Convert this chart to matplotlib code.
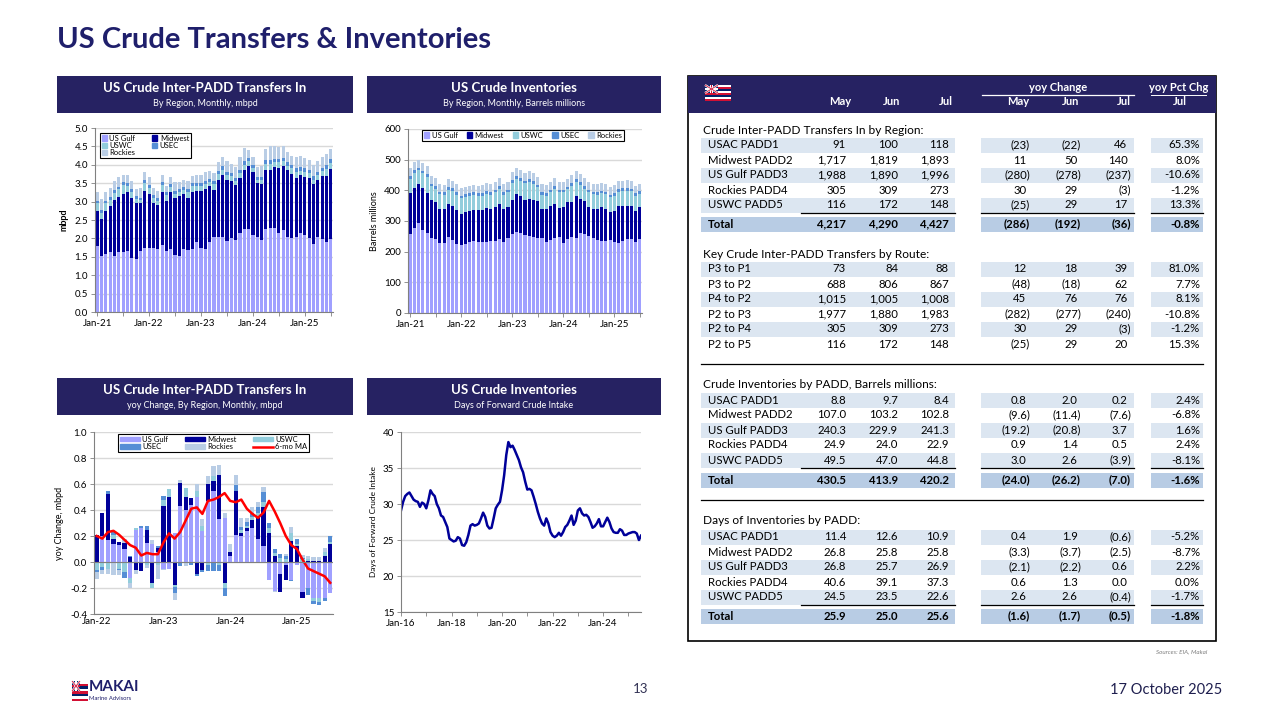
import matplotlib
matplotlib.use('Agg')
import matplotlib.pyplot as plt
from matplotlib.patches import Rectangle, Patch
from matplotlib.lines import Line2D
import numpy as np

plt.rcParams['font.family'] = ['Lato', 'DejaVu Sans']

# -------------------
# colours
# -------------------
NAVY = '#262262'
TITLE_NAVY = '#1F1F6B'
C_GULF = '#A0A0FF'
C_MW = '#000099'
C_USWC = '#92CDDC'
C_USEC = '#558ED5'
C_ROCK = '#B9CDE5'
BAND = '#DCE6F1'
BAND_TOT = '#B8CCE4'
GRID = '#D9D9D9'
AXC = '#808080'

# -------------------
# chart 1: inter-PADD transfers in, mbpd, Jan-21 .. Jul-25
# -------------------
tr_labels = ['Jan-21', 'Jan-22', 'Jan-23', 'Jan-24', 'Jan-25']
tr_gulf = [1.80, 1.52, 1.57, 1.62, 1.52, 1.62, 1.62, 1.65, 1.47, 1.45, 1.65, 1.75,
           1.75, 1.75, 1.72, 1.82, 1.65, 1.72, 1.55, 1.53, 1.70, 1.68, 1.72, 1.90,
           1.75, 1.70, 1.90, 2.05, 2.05, 2.05, 1.92, 2.00, 1.95, 2.15, 2.25, 2.25,
           2.10, 2.05, 1.95, 2.25, 2.28, 2.28, 2.15, 2.22, 2.05, 2.00, 2.05, 2.15,
           2.10, 2.00, 1.85, 2.03, 1.988, 1.890, 1.996]
tr_mw = [0.95, 1.00, 1.18, 1.25, 1.53, 1.51, 1.60, 1.60, 1.63, 1.50, 1.30, 1.55,
         1.45, 1.20, 1.18, 1.43, 1.37, 1.53, 1.55, 1.62, 1.50, 1.42, 1.55, 1.38,
         1.53, 1.65, 1.52, 1.27, 1.55, 1.67, 1.68, 1.57, 1.50, 1.50, 1.60, 1.72,
         1.70, 1.45, 1.53, 1.62, 1.59, 1.67, 1.77, 1.75, 1.80, 1.75, 1.60, 1.57,
         1.58, 1.65, 1.63, 1.57, 1.717, 1.819, 1.893]
tr_uswc = [.20, .18, .20, .18, .18, .20, .22, .18, .15, .12, .10, .20,
           .18, .15, .12, .20, .15, .15, .12, .12, .12, .15, .15, .15,
           .15, .12, .12, .15, .15, .15, .12, .12, .10, .12, .15, .12,
           .10, .08, .10, .15, .15, .12, .15, .12, .12, .15, .15, .12,
           .12, .12, .12, .12, .116, .172, .148]
tr_usec = [.07, .06, .07, .08, .08, .08, .08, .08, .08, .08, .06, .08,
           .08, .08, .07, .08, .08, .08, .08, .08, .08, .08, .08, .08,
           .08, .08, .08, .08, .08, .09, .09, .09, .09, .09, .10, .10,
           .10, .10, .08, .10, .10, .10, .10, .10, .10, .10, .10, .10,
           .10, .10, .09, .09, .091, .100, .118]
tr_rockies = [.23, .30, .25, .25, .25, .25, .20, .22, .22, .20, .25, .22,
              .22, .20, .20, .20, .18, .20, .22, .18, .20, .22, .20, .22,
              .22, .25, .20, .22, .25, .25, .28, .25, .30, .35, .35, .20,
              .20, .25, .30, .30, .40, .35, .32, .32, .28, .25, .32, .30,
              .28, .25, .30, .30, .305, .309, .273]

# -------------------
# chart 2: crude inventories, barrels millions, Jan-21 .. Jul-25
# -------------------
inv_gulf = [257, 278, 295, 272, 262, 243, 242, 228, 228, 248, 237, 225,
            222, 225, 230, 235, 232, 233, 232, 235, 235, 240, 230, 245,
            258, 265, 262, 255, 250, 248, 245, 243, 232, 237, 245, 248,
            228, 240, 248, 245, 262, 258, 252, 245, 238, 235, 235, 238,
            232, 228, 235, 242, 240.3, 229.9, 241.3]
inv_mw = [135, 130, 125, 135, 130, 124, 120, 112, 112, 107, 113, 112,
          100, 103, 103, 102, 103, 102, 110, 105, 110, 117, 110, 100,
          112, 123, 120, 115, 122, 122, 120, 97, 108, 111, 112, 94,
          117, 122, 114, 138, 110, 107, 93, 93, 102, 110, 105, 92,
          101, 120, 115, 108, 107.0, 103.2, 102.8]
inv_uswc = [46, 49, 45, 48, 51, 46, 43, 47, 45, 47, 47, 48,
            52, 50, 48, 48, 46, 48, 46, 46, 48, 48, 46, 48,
            55, 49, 48, 53, 55, 50, 45, 45, 43, 45, 48, 51,
            48, 41, 53, 44, 46, 40, 48, 49, 45, 45, 47, 47,
            50, 47, 47, 49, 49.5, 47.0, 44.8]
inv_usec = [9, 9, 9, 9, 9, 9, 9, 9, 9, 9, 9, 9,
            9, 9, 9, 9, 9, 9, 9, 9, 9, 9, 9, 9,
            9, 9, 9, 9, 9, 9, 9, 9, 9, 9, 9, 9,
            9, 9, 9, 9, 9, 9, 9, 9, 9, 9, 9, 9,
            9, 9, 9, 9, 8.8, 9.7, 8.4]
inv_rockies = [26, 26, 26, 26, 26, 26, 26, 25, 25, 25, 25, 26,
               26, 25, 25, 25, 25, 26, 26, 25, 25, 25, 25, 26,
               26, 26, 26, 26, 26, 26, 26, 26, 26, 26, 26, 26,
               26, 26, 26, 26, 26, 26, 26, 26, 26, 26, 26, 26,
               25, 25, 25, 25, 24.9, 24.0, 22.9]

# -------------------
# chart 3: yoy change in transfers, mbpd, Jan-22 .. Jul-25
# -------------------
yoy_labels = ['Jan-22', 'Jan-23', 'Jan-24', 'Jan-25']
yoy_gulf = [0.00, 0.20, 0.17, 0.14, 0.13, 0.10, -0.12, 0.25, 0.26, 0.15, 0.14, 0.08,
            -0.05, -0.05, 0.22, 0.43, 0.40, 0.44, 0.50, 0.24, 0.47, 0.55, 0.33, 0.34,
            0.05, 0.21, 0.20, 0.24, 0.26, 0.18, 0.12, -0.14, -0.22, -0.09, -0.02, -0.14,
            -0.02, -0.23, -0.20, -0.28, -0.280, -0.278, -0.237]
yoy_mw = [0.21, 0.18, 0.35, 0.04, 0.02, 0.05, 0.04, -0.06, -0.07, 0.10, -0.16, 0.03,
          0.43, 0.50, -0.18, 0.18, 0.10, 0.05, -0.09, -0.06, 0.13, 0.07, 0.34, -0.16,
          0.03, 0.34, 0.02, 0.02, 0.06, 0.17, 0.30, 0.22, 0.05, -0.14, -0.12, 0.16,
          0.12, -0.05, 0.01, 0.01, 0.011, 0.050, 0.140]
yoy_uswc = [-0.06, -0.04, -0.05, 0.03, -0.05, -0.08, -0.04, 0.01, 0.00, -0.02, -0.04, -0.02,
            0.05, 0.06, -0.01, -0.01, 0.07, -0.01, 0.05, 0.04, -0.02, 0.04, -0.02, -0.04,
            0.00, 0.00, 0.03, 0.02, 0.03, 0.03, 0.04, 0.04, 0.02, 0.03, 0.02, 0.06,
            0.02, 0.02, 0.01, -0.02, -0.025, 0.029, 0.017]
yoy_usec = [-0.02, -0.02, 0.03, 0.03, -0.01, -0.04, 0.01, 0.00, 0.02, 0.03, 0.00, 0.01,
            0.03, 0.00, -0.05, -0.02, -0.01, -0.01, -0.02, -0.02, -0.05, -0.07, -0.05, -0.06,
            -0.01, 0.04, 0.02, 0.03, 0.03, 0.04, 0.08, 0.04, 0.03, 0.03, 0.03, -0.01,
            0.04, 0.01, -0.05, -0.02, -0.023, -0.022, 0.046]
yoy_rockies = [-0.05, -0.03, -0.04, -0.10, -0.04, 0.03, -0.04, -0.03, 0.00, -0.03, 0.03, -0.11,
               -0.01, 0.00, -0.05, 0.02, -0.02, 0.00, 0.05, 0.05, 0.06, 0.08, 0.08, 0.04,
               0.06, 0.08, 0.07, 0.03, 0.04, 0.04, 0.04, 0.00, -0.01, 0.00, 0.01, 0.05,
               0.00, 0.02, 0.03, 0.03, 0.030, 0.029, -0.003]
yoy_ma6 = [0.20, 0.18, 0.23, 0.24, 0.21, 0.17, 0.13, 0.11, 0.05, 0.07, 0.06, 0.06,
           0.15, 0.22, 0.18, 0.23, 0.32, 0.41, 0.42, 0.37, 0.47, 0.48, 0.50, 0.53,
           0.47, 0.46, 0.48, 0.41, 0.37, 0.34, 0.38, 0.47, 0.39, 0.30, 0.20, 0.13,
           0.10, 0.02, -0.05, -0.07, -0.09, -0.11, -0.16]

# -------------------
# chart 4: days of forward crude intake, Jan-16 .. Jul-25
# -------------------
days_labels = ['Jan-16', 'Jan-18', 'Jan-20', 'Jan-22', 'Jan-24']
days_fwd = [29.1, 30.3, 31.1, 31.4, 31.6, 31.1, 30.6, 30.4, 30.3, 29.6, 30.2, 30.0,
            29.4, 30.5, 31.9, 31.4, 31.1, 30.0, 29.4, 28.4, 28.2, 27.5, 26.8, 25.2,
            25.0, 24.8, 24.9, 25.4, 25.2, 24.3, 24.2, 24.7, 25.7, 27.0, 27.2, 27.0,
            27.1, 27.3, 28.0, 28.8, 28.2, 27.0, 26.6, 26.7, 28.0, 29.4, 29.9, 30.3,
            31.9, 34.0, 36.8, 38.6, 37.9, 38.1, 37.5, 36.8, 36.1, 35.1, 34.4, 33.1,
            32.0, 32.1, 31.9, 31.0, 30.0, 28.9, 28.0, 27.3, 27.0, 28.0, 27.3, 26.1,
            25.6, 25.4, 25.6, 26.0, 25.6, 26.1, 26.8, 27.1, 27.7, 28.4, 27.1, 27.7,
            29.1, 29.4, 28.7, 28.4, 28.5, 28.2, 27.5, 26.7, 26.9, 27.3, 27.9, 26.9,
            26.9, 27.5, 28.1, 27.5, 26.6, 26.1, 26.0, 26.0, 26.5, 26.3, 25.7, 25.7,
            25.9, 26.0, 26.1, 26.1, 25.9, 25.0, 25.6]

# -------------------
# table data
# -------------------
col_heads = ['May', 'Jun', 'Jul', 'May', 'Jun', 'Jul', 'Jul']

s1_title = 'Crude Inter-PADD Transfers In by Region:'
s1_rows = ['USAC PADD1', 'Midwest PADD2', 'US Gulf PADD3', 'Rockies PADD4', 'USWC PADD5']
s1_vals = [['91', '100', '118', '(23)', '(22)', '46', '65.3%'],
           ['1,717', '1,819', '1,893', '11', '50', '140', '8.0%'],
           ['1,988', '1,890', '1,996', '(280)', '(278)', '(237)', '-10.6%'],
           ['305', '309', '273', '30', '29', '(3)', '-1.2%'],
           ['116', '172', '148', '(25)', '29', '17', '13.3%']]
s1_total = ['4,217', '4,290', '4,427', '(286)', '(192)', '(36)', '-0.8%']

s2_title = 'Key Crude Inter-PADD Transfers by Route:'
s2_rows = ['P3 to P1', 'P3 to P2', 'P4 to P2', 'P2 to P3', 'P2 to P4', 'P2 to P5']
s2_vals = [['73', '84', '88', '12', '18', '39', '81.0%'],
           ['688', '806', '867', '(48)', '(18)', '62', '7.7%'],
           ['1,015', '1,005', '1,008', '45', '76', '76', '8.1%'],
           ['1,977', '1,880', '1,983', '(282)', '(277)', '(240)', '-10.8%'],
           ['305', '309', '273', '30', '29', '(3)', '-1.2%'],
           ['116', '172', '148', '(25)', '29', '20', '15.3%']]

s3_title = 'Crude Inventories by PADD, Barrels millions:'
s3_rows = ['USAC PADD1', 'Midwest PADD2', 'US Gulf PADD3', 'Rockies PADD4', 'USWC PADD5']
s3_vals = [['8.8', '9.7', '8.4', '0.8', '2.0', '0.2', '2.4%'],
           ['107.0', '103.2', '102.8', '(9.6)', '(11.4)', '(7.6)', '-6.8%'],
           ['240.3', '229.9', '241.3', '(19.2)', '(20.8)', '3.7', '1.6%'],
           ['24.9', '24.0', '22.9', '0.9', '1.4', '0.5', '2.4%'],
           ['49.5', '47.0', '44.8', '3.0', '2.6', '(3.9)', '-8.1%']]
s3_total = ['430.5', '413.9', '420.2', '(24.0)', '(26.2)', '(7.0)', '-1.6%']

s4_title = 'Days of Inventories by PADD:'
s4_rows = ['USAC PADD1', 'Midwest PADD2', 'US Gulf PADD3', 'Rockies PADD4', 'USWC PADD5']
s4_vals = [['11.4', '12.6', '10.9', '0.4', '1.9', '(0.6)', '-5.2%'],
           ['26.8', '25.8', '25.8', '(3.3)', '(3.7)', '(2.5)', '-8.7%'],
           ['26.8', '25.7', '26.9', '(2.1)', '(2.2)', '0.6', '2.2%'],
           ['40.6', '39.1', '37.3', '0.6', '1.3', '0.0', '0.0%'],
           ['24.5', '23.5', '22.6', '2.6', '2.6', '(0.4)', '-1.7%']]
s4_total = ['25.9', '25.0', '25.6', '(1.6)', '(1.7)', '(0.5)', '-1.8%']

# -------------------
# figure + background canvas in pixel coordinates
# -------------------
fig = plt.figure(figsize=(12.8, 7.2), dpi=100)
bg = fig.add_axes([0, 0, 1, 1])
bg.set_xlim(0, 1280)
bg.set_ylim(720, 0)
bg.axis('off')


def px_axes(x0, y0, x1, y1):
    return fig.add_axes([x0 / 1280, 1 - y1 / 720, (x1 - x0) / 1280, (y1 - y0) / 720])


def draw_flag(x, y, w, h):
    stripe_cols = ['white', '#D21034', '#012169'] * 3
    sh = h / 8
    for i in range(8):
        bg.add_patch(Rectangle((x, y + i * sh), w, sh, color=stripe_cols[i], lw=0))
    cw, ch = w * 0.5, sh * 4
    bg.add_patch(Rectangle((x, y), cw, ch, color='#012169', lw=0))
    bg.plot([x, x + cw], [y, y + ch], color='white', lw=1.6, solid_capstyle='butt')
    bg.plot([x, x + cw], [y + ch, y], color='white', lw=1.6, solid_capstyle='butt')
    bg.plot([x, x + cw], [y, y + ch], color='#D21034', lw=0.6, solid_capstyle='butt')
    bg.plot([x, x + cw], [y + ch, y], color='#D21034', lw=0.6, solid_capstyle='butt')
    bg.add_patch(Rectangle((x + cw * 0.4, y), cw * 0.2, ch, color='white', lw=0))
    bg.add_patch(Rectangle((x, y + ch * 0.38), cw, ch * 0.24, color='white', lw=0))
    bg.add_patch(Rectangle((x + cw * 0.45, y), cw * 0.1, ch, color='#D21034', lw=0))
    bg.add_patch(Rectangle((x, y + ch * 0.44), cw, ch * 0.12, color='#D21034', lw=0))


def header_box(x0, x1, y0, title, sub):
    bg.add_patch(Rectangle((x0, y0), x1 - x0, 37, color=NAVY, lw=0))
    xc = (x0 + x1) / 2
    bg.text(xc, y0 + 12, title, color='white', fontsize=9.5, fontweight='bold', ha='center', va='center')
    bg.text(xc, y0 + 28, sub, color='white', fontsize=6.5, ha='center', va='center')


def style_axes(ax):
    for s in ['top', 'right']:
        ax.spines[s].set_visible(False)
    for s in ['left', 'bottom']:
        ax.spines[s].set_color(AXC)
        ax.spines[s].set_linewidth(0.8)
    ax.yaxis.grid(True, color=GRID, lw=1)
    ax.set_axisbelow(True)
    ax.tick_params(labelsize=7, length=3, width=0.6, color=AXC, pad=2)


def small_legend(ax, handles, labels, ncol, anchor, colsp, hlen=0.7, hheight=0.7):
    leg = ax.legend(handles, labels, loc='upper left', bbox_to_anchor=anchor, ncol=ncol,
                    fontsize=5.5, frameon=True, fancybox=False, edgecolor='black', framealpha=1,
                    handlelength=hlen, handleheight=hheight, handletextpad=0.3, columnspacing=colsp,
                    borderpad=0.25, labelspacing=0.05, borderaxespad=0)
    leg.get_frame().set_linewidth(0.8)


# -------------------
# page title
# -------------------
bg.text(57, 40, 'US Crude Transfers & Inventories', color=TITLE_NAVY, fontsize=21,
        fontweight='bold', ha='left', va='center')

header_box(57, 353, 76, 'US Crude Inter-PADD Transfers In', 'By Region, Monthly, mbpd')
header_box(367, 661, 76, 'US Crude Inventories', 'By Region, Monthly, Barrels millions')
header_box(57, 353, 378, 'US Crude Inter-PADD Transfers In', 'yoy Change, By Region, Monthly, mbpd')
header_box(367, 661, 378, 'US Crude Inventories', 'Days of Forward Crude Intake')

names = ['US Gulf', 'Midwest', 'USWC', 'USEC', 'Rockies']
cols = [C_GULF, C_MW, C_USWC, C_USEC, C_ROCK]

# -------------------
# chart 1
# -------------------
ax1 = px_axes(95, 128, 333, 312)
x = np.arange(len(tr_gulf))
bottom = np.zeros(len(x))
for vals, c in zip([tr_gulf, tr_mw, tr_uswc, tr_usec, tr_rockies], cols):
    ax1.bar(x, vals, bottom=bottom, width=0.72, color=c, lw=0)
    bottom += np.array(vals)
ax1.set_xlim(-0.5, len(x) - 0.5)
ax1.set_ylim(0, 5)
ax1.set_yticks(np.arange(0, 5.01, 0.5))
ax1.set_yticklabels([f'{v:.1f}' for v in np.arange(0, 5.01, 0.5)])
ax1.set_xticks([0, 12, 24, 36, 48])
ax1.set_xticklabels(tr_labels)
ax1.set_xticks([6, 18, 30, 42, 54], minor=True)
style_axes(ax1)
ax1.tick_params(axis='x', which='both', length=3, color=AXC)
ax1.set_ylabel('mbpd', fontsize=6.5, fontweight='bold', labelpad=4)
h = [Patch(color=cols[i]) for i in [0, 2, 4, 1, 3]]
small_legend(ax1, h, [names[i] for i in [0, 2, 4, 1, 3]], 2, (0.02, 0.975), 2.2)

# -------------------
# chart 2
# -------------------
ax2 = px_axes(408, 129, 642, 313)
x = np.arange(len(inv_gulf))
bottom = np.zeros(len(x))
for vals, c in zip([inv_gulf, inv_mw, inv_uswc, inv_usec, inv_rockies], cols):
    ax2.bar(x, vals, bottom=bottom, width=0.72, color=c, lw=0)
    bottom += np.array(vals)
ax2.set_xlim(-0.5, len(x) - 0.5)
ax2.set_ylim(0, 600)
ax2.set_yticks(np.arange(0, 601, 100))
ax2.set_xticks([0, 12, 24, 36, 48])
ax2.set_xticklabels(tr_labels)
ax2.set_xticks([6, 18, 30, 42, 54], minor=True)
style_axes(ax2)
ax2.tick_params(axis='x', which='both', length=3, color=AXC)
ax2.set_ylabel('Barrels millions', fontsize=6.5, labelpad=4)
h = [Patch(color=c) for c in cols]
small_legend(ax2, h, names, 5, (0.06, 0.995), 1.2)

# -------------------
# chart 3
# -------------------
ax3 = px_axes(94, 432, 333, 614)
x = np.arange(len(yoy_gulf))
pos_b = np.zeros(len(x))
neg_b = np.zeros(len(x))
for vals, c in zip([yoy_gulf, yoy_mw, yoy_uswc, yoy_usec, yoy_rockies], cols):
    v = np.array(vals)
    p = np.where(v > 0, v, 0)
    n = np.where(v < 0, v, 0)
    ax3.bar(x, p, bottom=pos_b, width=0.75, color=c, lw=0)
    ax3.bar(x, n, bottom=neg_b, width=0.75, color=c, lw=0)
    pos_b += p
    neg_b += n
ax3.plot(x, yoy_ma6, color='#FF0000', lw=1.8)
ax3.axhline(0, color=AXC, lw=0.8)
ax3.set_xlim(-0.5, len(x) - 0.5)
ax3.set_ylim(-0.4, 1.0)
ax3.set_yticks(np.arange(-0.4, 1.01, 0.2))
ax3.set_yticklabels([f'{v:.1f}' for v in np.arange(-0.4, 1.01, 0.2)])
ax3.set_xticks([0, 12, 24, 36])
ax3.set_xticklabels(yoy_labels)
style_axes(ax3)
ax3.tick_params(axis='x', length=0)
ax3.set_ylabel('yoy Change, mbpd', fontsize=6.5, labelpad=4)
h = [Patch(color=C_GULF), Patch(color=C_USEC), Patch(color=C_MW), Patch(color=C_ROCK),
     Patch(color=C_USWC), Line2D([0], [0], color='#FF0000', lw=1.8)]
small_legend(ax3, h, ['US Gulf', 'USEC', 'Midwest', 'Rockies', 'USWC', '6-mo MA'], 3, (0.1, 0.99),
             2.2, hlen=2.6, hheight=0.6)

# -------------------
# chart 4
# -------------------
ax4 = px_axes(401, 432, 641, 612)
x = np.arange(len(days_fwd))
ax4.plot(x, days_fwd, color='#000099', lw=1.8)
ax4.set_xlim(0, len(x) - 1)
ax4.set_ylim(15, 40)
ax4.set_yticks(np.arange(15, 41, 5))
ax4.set_xticks([0, 24, 48, 72, 96])
ax4.set_xticklabels(days_labels)
ax4.set_xticks([12, 36, 60, 84, 108], minor=True)
style_axes(ax4)
ax4.tick_params(axis='x', which='both', length=3, color=AXC)
ax4.set_ylabel('Days of Forward Crude Intake', fontsize=6, labelpad=4)

# -------------------
# table
# -------------------
TX0, TX1, TY0, TY1 = 688, 1216, 76, 641
bg.add_patch(Rectangle((TX0, TY0), TX1 - TX0, TY1 - TY0, fill=False, ec='black', lw=1.2))
bg.add_patch(Rectangle((TX0, TY0), TX1 - TX0, 37, color=NAVY, lw=0))
draw_flag(705, 85, 26, 16)

head_x = [840, 892, 946, 1018, 1071, 1124, 1180]
for hx, t in zip(head_x, col_heads):
    bg.text(hx, 105, t, color='white', fontsize=8, fontweight='bold', ha='center', va='baseline')
bg.text(1058, 91, 'yoy Change', color='white', fontsize=8, fontweight='bold', ha='center', va='baseline')
bg.plot([982, 1134], [95, 95], color='white', lw=0.9)
bg.text(1179, 91, 'yoy Pct Chg', color='white', fontsize=8, fontweight='bold', ha='center', va='baseline')
bg.plot([1151, 1206], [94.5, 94.5], color='white', lw=0.7)

val_x = [846, 898, 949, 1030, 1081, 1131, 1200]
bands = [(701, 955), (981, 1134), (1151, 1203)]
uls = [(801, 955), (981, 1134), (1151, 1203)]
FS = 8.2


def draw_row(y, label, vals, shaded=False, total=False):
    if shaded or total:
        for b0, b1 in bands:
            bg.add_patch(Rectangle((b0, y - 7.5), b1 - b0, 15, color=BAND_TOT if total else BAND, lw=0))
    fw = 'bold' if total else 'normal'
    yb = y + 3.5
    bg.text(708, yb, label, fontsize=FS, fontweight=fw, ha='left', va='baseline', color='black')
    for i, (vx, v) in enumerate(zip(val_x, vals)):
        off = 3.5 if (3 <= i <= 5 and not v.endswith(')')) else 0
        bg.text(vx - off, yb, v, fontsize=FS, fontweight=fw, ha='right', va='baseline', color='black')


def draw_section(y_title, title, rows, vals, total=None, y_rows=None, y_total=None):
    bg.text(703, y_title + 3.5, title, fontsize=8.6, ha='left', va='baseline', color='black')
    for k, (lab, v) in enumerate(zip(rows, vals)):
        draw_row(y_rows[k], lab, v, shaded=(k % 2 == 0))
    if total is not None:
        yl = y_rows[-1] + 7.5
        for u0, u1 in uls:
            bg.plot([u0, u1], [yl, yl], color='black', lw=0.9)
        draw_row(y_total, 'Total', total, total=True)


draw_section(130, s1_title, s1_rows, s1_vals, s1_total, [145, 160, 175, 190, 205], 224)
draw_section(254, s2_title, s2_rows, s2_vals, None, [269, 284, 299, 314, 329, 344])
bg.plot([701, 1203], [364, 364], color='black', lw=0.9)
draw_section(385, s3_title, s3_rows, s3_vals, s3_total, [400, 415, 430, 445, 460], 480)
bg.plot([701, 1203], [500, 500], color='black', lw=0.9)
draw_section(521, s4_title, s4_rows, s4_vals, s4_total, [537, 552, 567, 582, 597], 616)

bg.text(1207, 652, 'Sources: EIA, Makai', fontsize=4.5, color='#7F7F7F', ha='right', va='center', style='italic')

# -------------------
# footer
# -------------------
draw_flag(72, 681, 16, 20)
bg.text(89, 687, 'MAKAI', fontsize=11, fontweight='bold', color=TITLE_NAVY, ha='left', va='center')
bg.text(89, 699, 'Marine Advisors', fontsize=4.2, color=TITLE_NAVY, ha='left', va='center')
bg.text(641, 689, '13', fontsize=9.5, color='#333355', ha='center', va='center')
bg.text(1222, 690, '17 October 2025', fontsize=10.5, color='#1F1F4F', ha='right', va='center')

fig.savefig('out.png', dpi=100)
